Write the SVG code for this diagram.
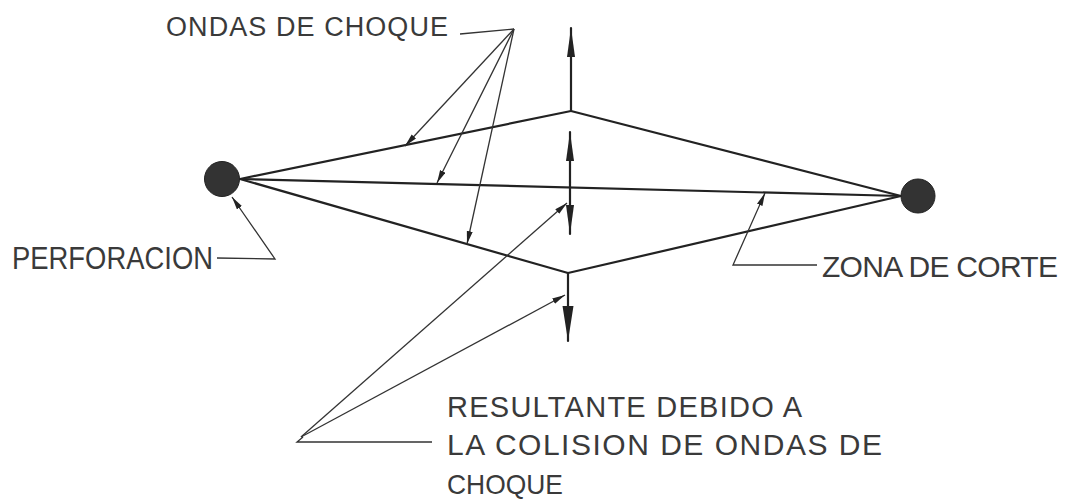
<svg xmlns="http://www.w3.org/2000/svg" width="1068" height="501" viewBox="0 0 1068 501">
<style>
.main{stroke:#222;stroke-width:2.2;fill:none;stroke-linecap:round}
.lead{stroke:#333;stroke-width:1.3;fill:none}
.lbl{font-family:"Liberation Sans",Arial,sans-serif;fill:#3a3a3a;font-weight:normal}
.dot{fill:#333;stroke:#222;stroke-width:1}
</style>
<defs>
<marker id="ah" markerUnits="userSpaceOnUse" markerWidth="14" markerHeight="8" refX="13" refY="3" orient="auto">
<path d="M0,0 L13,3 L0,6 Z" fill="#222"/>
</marker>
<marker id="big" markerUnits="userSpaceOnUse" markerWidth="30" markerHeight="10" refX="29" refY="4" orient="auto">
<path d="M0,0 L29,4 L0,8 Z" fill="#222"/>
</marker>
<marker id="huge" markerUnits="userSpaceOnUse" markerWidth="36" markerHeight="12" refX="35" refY="5.5" orient="auto">
<path d="M0,0 L35,5.5 L0,11 Z" fill="#222"/>
</marker>
</defs>
<rect width="1068" height="501" fill="#ffffff"/>
<g id="connectors">
<line class="main" x1="240" y1="179" x2="571" y2="111"/>
<line class="main" x1="240" y1="179" x2="901" y2="196"/>
<line class="main" x1="240" y1="179" x2="568" y2="273"/>
<line class="main" x1="571" y1="111" x2="901" y2="196"/>
<line class="main" x1="568" y1="273" x2="901" y2="196"/>
<line class="main" x1="571" y1="111" x2="571" y2="28" marker-end="url(#big)"/>
<line class="main" x1="570" y1="182" x2="570" y2="132" marker-end="url(#big)"/>
<line class="main" x1="570" y1="182" x2="570" y2="234" marker-end="url(#big)"/>
<line class="main" x1="568" y1="273" x2="568" y2="341" marker-end="url(#huge)"/>
<polyline class="lead" points="460,34 514,29"/>
<line class="lead" x1="514" y1="29" x2="405" y2="146" marker-end="url(#ah)"/>
<line class="lead" x1="514" y1="29" x2="437" y2="183" marker-end="url(#ah)"/>
<line class="lead" x1="514" y1="29" x2="467" y2="244" marker-end="url(#ah)"/>
<polyline class="lead" points="217,258 275,259 232,197" marker-end="url(#ah)"/>
<polyline class="lead" points="817,265 733,265 765,193" marker-end="url(#ah)"/>
<line class="lead" x1="301" y1="437" x2="567" y2="203" marker-end="url(#ah)"/>
<line class="lead" x1="301" y1="437" x2="565" y2="295" marker-end="url(#ah)"/>
<polyline class="lead" points="303,437 297,442 432,442"/>
</g>
<g id="perforacion-dot"><circle class="dot" cx="222" cy="179" r="17.5"/></g>
<g id="corte-dot"><circle class="dot" cx="918" cy="196" r="17"/></g>
<g id="label-ondas"><text class="lbl" x="166" y="36" font-size="27" textLength="282" lengthAdjust="spacing">ONDAS DE CHOQUE</text></g>
<g id="label-perforacion"><text class="lbl" x="12" y="269" font-size="31" textLength="201" lengthAdjust="spacingAndGlyphs">PERFORACION</text></g>
<g id="label-zona"><text class="lbl" x="822" y="277" font-size="30" textLength="236" lengthAdjust="spacing">ZONA DE CORTE</text></g>
<g id="label-resultante">
<text class="lbl" x="447" y="417" font-size="29" textLength="355" lengthAdjust="spacing">RESULTANTE DEBIDO A</text>
<text class="lbl" x="447" y="455" font-size="30" textLength="435" lengthAdjust="spacing">LA COLISION DE ONDAS DE</text>
<text class="lbl" x="447" y="494" font-size="28" textLength="116" lengthAdjust="spacingAndGlyphs">CHOQUE</text>
</g>
</svg>
